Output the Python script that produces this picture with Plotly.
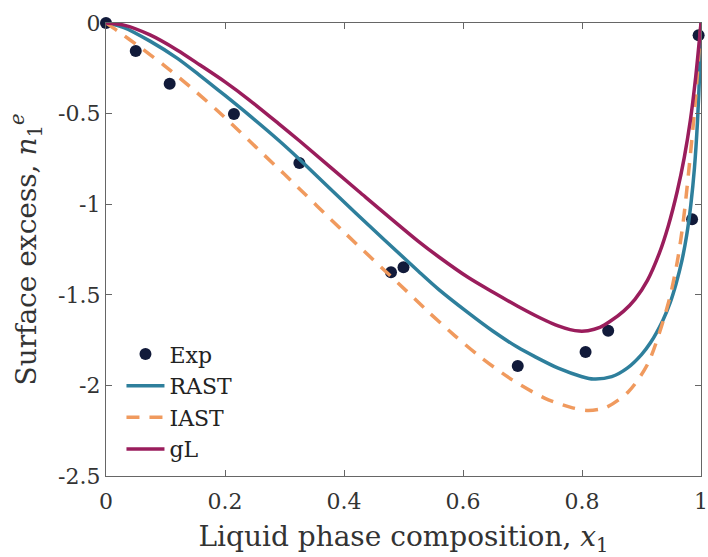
import plotly.graph_objects as go

# Experimental points
exp_x = [0.0, 0.050, 0.107, 0.215, 0.325, 0.479, 0.500, 0.692, 0.806, 0.844, 0.985, 0.996]
exp_y = [0.0, -0.155, -0.335, -0.502, -0.773, -1.376, -1.348, -1.893, -1.816, -1.698, -1.083, -0.068]

# RAST model
rast_x = [0.0, 0.03, 0.074, 0.12, 0.158, 0.2, 0.241, 0.291, 0.325, 0.42, 0.525, 0.559, 0.609,
          0.65, 0.692, 0.72, 0.76, 0.80, 0.819, 0.85, 0.876, 0.9, 0.915, 0.936, 0.948, 0.958,
          0.968, 0.976, 0.983, 0.989, 0.994, 0.998, 1.0]
rast_y = [0.0, -0.025, -0.1, -0.195, -0.29, -0.4, -0.51, -0.65, -0.752, -1.05, -1.37, -1.47,
          -1.6, -1.70, -1.79, -1.84, -1.905, -1.952, -1.965, -1.952, -1.905, -1.83, -1.765,
          -1.64, -1.545, -1.44, -1.31, -1.17, -1.0, -0.8, -0.55, -0.25, 0.0]

# IAST model
iast_x = [0.0, 0.02, 0.052, 0.097, 0.141, 0.186, 0.225, 0.263, 0.30, 0.40, 0.515, 0.542, 0.586,
          0.628, 0.682, 0.737, 0.78, 0.81, 0.84, 0.878, 0.911, 0.945, 0.96, 0.97, 0.979, 0.99, 1.0]
iast_y = [0.0, -0.045, -0.121, -0.232, -0.351, -0.48, -0.6, -0.72, -0.835, -1.154, -1.51,
          -1.595, -1.725, -1.84, -1.968, -2.07, -2.12, -2.138, -2.122, -2.035, -1.878, -1.547,
          -1.32, -1.1, -0.83, -0.45, 0.0]

# gL model
gl_x = [0.0, 0.03, 0.074, 0.12, 0.158, 0.2, 0.241, 0.29, 0.325, 0.425, 0.525, 0.559, 0.609,
        0.65, 0.692, 0.73, 0.76, 0.78, 0.795, 0.81, 0.83, 0.848, 0.87, 0.889, 0.91, 0.93, 0.945,
        0.96, 0.972, 0.982, 0.991, 1.0]
gl_y = [0.0, -0.012, -0.066, -0.15, -0.232, -0.325, -0.425, -0.555, -0.65, -0.93, -1.205, -1.29,
        -1.405, -1.485, -1.563, -1.628, -1.672, -1.692, -1.700, -1.698, -1.68, -1.645, -1.59,
        -1.525, -1.42, -1.27, -1.12, -0.93, -0.74, -0.54, -0.3, 0.0]

x_ticks = [0, 0.2, 0.4, 0.6, 0.8, 1]
x_ticktext = ["0", "0.2", "0.4", "0.6", "0.8", "1"]
y_ticks = [0, -0.5, -1, -1.5, -2, -2.5]
y_ticktext = ["0", "-0.5", "-1", "-1.5", "-2", "-2.5"]

FONT = "DejaVu Serif"
TXT = "#333333"

fig = go.Figure()
fig.add_trace(go.Scatter(x=exp_x, y=exp_y, mode="markers", name="Exp",
                         marker=dict(color="#111a3a", size=12), cliponaxis=False))
fig.add_trace(go.Scatter(x=rast_x, y=rast_y, mode="lines", name="RAST",
                         line=dict(color="#2e7f9c", width=3.5, shape="spline", smoothing=0.8)))
fig.add_trace(go.Scatter(x=iast_x, y=iast_y, mode="lines", name="IAST",
                         line=dict(color="#f09a5e", width=3.5, dash="13px,10px",
                                   shape="spline", smoothing=0.8)))
fig.add_trace(go.Scatter(x=gl_x, y=gl_y, mode="lines", name="gL",
                         line=dict(color="#9a1d5c", width=3.5, shape="spline", smoothing=0.8)))

axis_common = dict(showline=True, linecolor="#666666", linewidth=1.2, mirror="ticks",
                   ticks="inside", ticklen=6, tickcolor="#666666", showgrid=False,
                   zeroline=False, ticklabeloverflow="allow", automargin=False,
                   tickfont=dict(family=FONT, size=22, color=TXT))

fig.update_layout(
    width=708, height=557,
    margin=dict(l=106, r=7, t=23, b=81),
    paper_bgcolor="white", plot_bgcolor="white",
    font=dict(family=FONT, color=TXT),
    showlegend=True,
    legend=dict(x=0.026, y=0.315, xanchor="left", yanchor="top",
                bgcolor="rgba(0,0,0,0)", font=dict(family=FONT, size=22, color="#222222"),
                itemwidth=38, tracegroupgap=0),
    xaxis=dict(range=[0, 1], tickvals=x_ticks, ticktext=x_ticktext, ticklabelstandoff=5,
               title=dict(text="Liquid phase composition, <i>x</i><sub>1</sub>",
                          font=dict(family=FONT, size=28, color=TXT), standoff=14),
               **axis_common),
    yaxis=dict(range=[-2.5, 0], tickvals=y_ticks, ticktext=y_ticktext,
               title=dict(text="Surface excess, <i>n</i><sub>1</sub><sup><i>e</i></sup>",
                          font=dict(family=FONT, size=28, color=TXT), standoff=13),
               **axis_common),
)

fig.write_html("out.html")
